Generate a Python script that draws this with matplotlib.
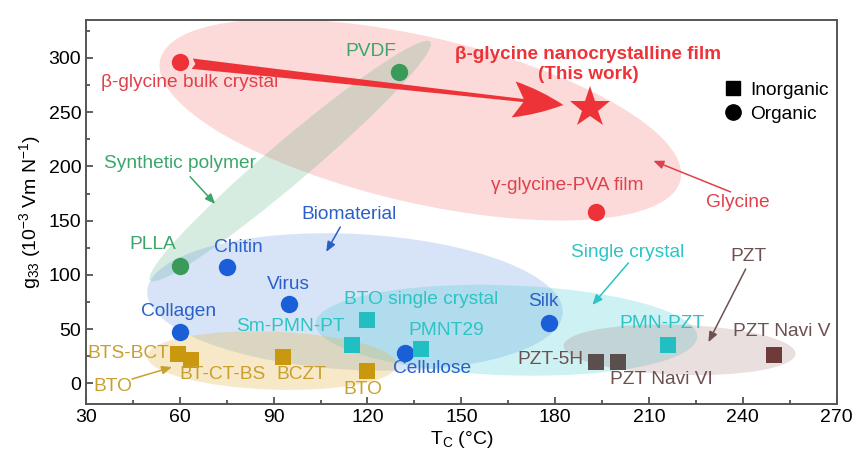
import matplotlib
matplotlib.use("Agg")
from matplotlib import pyplot as plt
from matplotlib.patches import Ellipse
from matplotlib.lines import Line2D
import matplotlib.transforms as mtransforms

plt.rcParams['font.family'] = ['Liberation Sans', 'DejaVu Sans']
plt.rcParams['mathtext.fontset'] = 'custom'
plt.rcParams['mathtext.rm'] = 'Liberation Sans'
plt.rcParams['mathtext.it'] = 'Liberation Sans:italic'

# data: (Tc in degC, g33 in 1e-3 Vm/N)
glycine_names = ["β-glycine bulk crystal", "γ-glycine-PVA film"]
glycine_tc = [60, 193]
glycine_g33 = [296, 158]
work_tc = [191]
work_g33 = [254]

polymer_names = ["PVDF", "PLLA"]
polymer_tc = [130, 60]
polymer_g33 = [287, 108]

bio_names = ["Chitin", "Virus", "Collagen", "Cellulose", "Silk"]
bio_tc = [75, 95, 60, 132, 178]
bio_g33 = [107, 73, 47, 28, 56]

single_names = ["BTO single crystal", "Sm-PMN-PT", "PMNT29", "PMN-PZT"]
single_tc = [120, 115, 137, 216]
single_g33 = [58, 35, 32, 35]

ceramic_names = ["BTS-BCT", "BT-CT-BS", "BCZT", "BTO"]
ceramic_tc = [59.5, 63.5, 93, 120]
ceramic_g33 = [27, 22, 24, 11]

pzt_names = ["PZT-5H", "PZT Navi VI", "PZT Navi V"]
pzt_tc = [193, 200, 250]
pzt_g33 = [20, 20, 26]

red = "#ee3338"
green = "#3a9a5a"
blue = "#1a5fd8"
cyan = "#22bfc2"
gold = "#c9980f"
gray = "#5a4e4e"
brown = "#6e3a3a"

fig = plt.figure(figsize=(8.67, 4.71), dpi=100)
ax = fig.add_axes([0.0992, 0.1423, 0.8658, 0.8152])
ax.set_xlim(30, 270)
ax.set_ylim(-19, 335)

# group regions: centre (data), width/height in inches, angle
regions = [
    (136.9, 243, 5.34, 1.66, -13, "#f04a4a", 0.2),
    (95.3, 205, 3.68, 0.42, 40.4, "#3ba36a", 0.2),
    (116, 75, 4.16, 1.36, -3, "#5b8fe0", 0.24),
    (164.4, 49, 3.82, 0.90, -2, "#3cc8d0", 0.25),
    (89.5, 21, 2.50, 0.58, -2, "#e6b84a", 0.3),
    (219.8, 31, 2.32, 0.50, -2, "#a07070", 0.22),
]
for cx, cy, w, h, ang, col, al in regions:
    tr = fig.dpi_scale_trans + mtransforms.ScaledTranslation(cx, cy, ax.transData)
    ax.add_patch(Ellipse((0, 0), w, h, angle=ang, transform=tr,
                         facecolor=col, alpha=al, edgecolor="none", zorder=1))

# big arrow: bulk crystal -> this work
ax.annotate("", xy=(work_tc[0], work_g33[0]), xytext=(glycine_tc[0], glycine_g33[0]),
            arrowprops=dict(arrowstyle="fancy,head_length=0.72,head_width=0.52,tail_width=0.15",
                            color=red, mutation_scale=50, shrinkA=9, shrinkB=19, lw=0),
            zorder=3)

ms_c = 12.5
ms_s = 11.5
ax.plot(glycine_tc, glycine_g33, "o", color=red, ms=ms_c, mew=0, zorder=4)
ax.plot(work_tc, work_g33, "*", color=red, ms=31, mew=0, zorder=4)
ax.plot(polymer_tc, polymer_g33, "o", color=green, ms=ms_c, mew=0, zorder=4)
ax.plot(bio_tc, bio_g33, "o", color=blue, ms=ms_c, mew=0, zorder=4)
ax.plot(single_tc, single_g33, "s", color=cyan, ms=ms_s, mew=0, zorder=4)
ax.plot(ceramic_tc, ceramic_g33, "s", color=gold, ms=ms_s, mew=0, zorder=4)
ax.plot(pzt_tc[:2], pzt_g33[:2], "s", color=gray, ms=ms_s, mew=0, zorder=4)
ax.plot(pzt_tc[2:], pzt_g33[2:], "s", color=brown, ms=ms_s, mew=0, zorder=4)

fs = 13.8
c_red = "#e0404a"
c_green = "#3aa66a"
c_blue = "#2a5fc8"
c_cyan = "#2cc4c4"
c_gold = "#c9a030"
c_pzt = "#6e5050"

def lab(t, x, y, c, **kw):
    ax.text(x, y, t, color=c, fontsize=fs, ha="center", va="center", zorder=5, **kw)

lab(glycine_names[0], 63, 277, c_red)
lab(glycine_names[1], 184, 182, c_red)
ax.text(190.6, 294, "β-glycine nanocrystalline film\n(This work)", color=red, fontsize=13.6,
        fontweight="bold", ha="center", va="center", linespacing=1.3, zorder=5)
lab(polymer_names[0], 121, 305.7, c_green)
lab(polymer_names[1], 51.4, 127.6, c_green)
lab(bio_names[0], 78.7, 125, c_blue)
lab(bio_names[1], 94.6, 90.7, c_blue)
lab(bio_names[2], 59.5, 66, c_blue)
lab(bio_names[3], 140.8, 13.8, c_blue)
lab(bio_names[4], 176.2, 75.3, c_blue)
lab(single_names[0], 137.2, 77.5, c_cyan)
lab(single_names[1], 95.3, 52.2, c_cyan)
lab(single_names[2], 145.2, 49.2, c_cyan)
lab(single_names[3], 214.3, 55.6, c_cyan)
lab(ceramic_names[0], 43.4, 27.7, c_gold)
lab(ceramic_names[1], 73.8, 8.6, c_gold)
lab(ceramic_names[2], 98.8, 8.6, c_gold)
lab(ceramic_names[3], 118.6, -5.5, c_gold)
lab(pzt_names[0], 178.5, 22.1, c_pzt)
lab(pzt_names[1], 214, 3.7, c_pzt)
lab(pzt_names[2], 252.4, 47.6, c_pzt)

# group labels with small arrows
def group(t, xy_text, xy_head, c):
    ax.annotate("", xy=xy_head, xytext=xy_text,
                arrowprops=dict(arrowstyle="-|>,head_length=0.6,head_width=0.25",
                                color=c, lw=1.1, shrinkA=0, shrinkB=0), zorder=5)

lab("Glycine", 238.3, 166.4, c_red)
group("Glycine", (236.1, 176.5), (211.4, 205.2), c_red)
lab("Synthetic polymer", 60, 203, c_green)
group("Synthetic polymer", (63.3, 190.5), (71.3, 165.4), c_green)
lab("Biomaterial", 114.2, 156, c_blue)
group("Biomaterial", (111.3, 144.2), (106.8, 121.2), c_blue)
lab("Single crystal", 203.1, 120.8, c_cyan)
group("Single crystal", (203.4, 111), (191.9, 72.3), c_cyan)
lab("PZT", 241.8, 116.8, c_pzt)
group("PZT", (240.9, 105.4), (229, 38), c_pzt)
lab("BTO", 38.6, -3.1, c_gold)
group("BTO", (44.7, 4), (57.5, 15), c_gold)

handles = [Line2D([], [], ls="", marker="s", color="black", ms=10.5),
           Line2D([], [], ls="", marker="o", color="black", ms=11)]
ax.legend(handles, ["Inorganic", "Organic"], loc="upper right", bbox_to_anchor=(1.012, 0.885),
          frameon=False, fontsize=13.8, handletextpad=0.4, labelspacing=0.35, handlelength=1.0)

ax.set_xticks(range(30, 271, 30))
ax.set_xticks(range(45, 271, 30), minor=True)
ax.set_yticks(range(0, 301, 50))
ax.set_yticks(range(25, 326, 50), minor=True)
ax.tick_params(which="both", direction="in", top=False, right=False, labelsize=14,
               color="#444444", width=1.2)
ax.tick_params(which="major", length=5)
ax.tick_params(which="minor", length=3)
for s in ax.spines.values():
    s.set_color("#555555")
    s.set_linewidth(1.4)

ax.set_xlabel(r"T$_\mathrm{C}$ (°C)", fontsize=14, labelpad=2)
ax.set_ylabel(r"g$_{33}$ (10$^{-3}$ Vm N$^{-1}$)", fontsize=14, labelpad=4)

fig.savefig("out.png", dpi=100)
